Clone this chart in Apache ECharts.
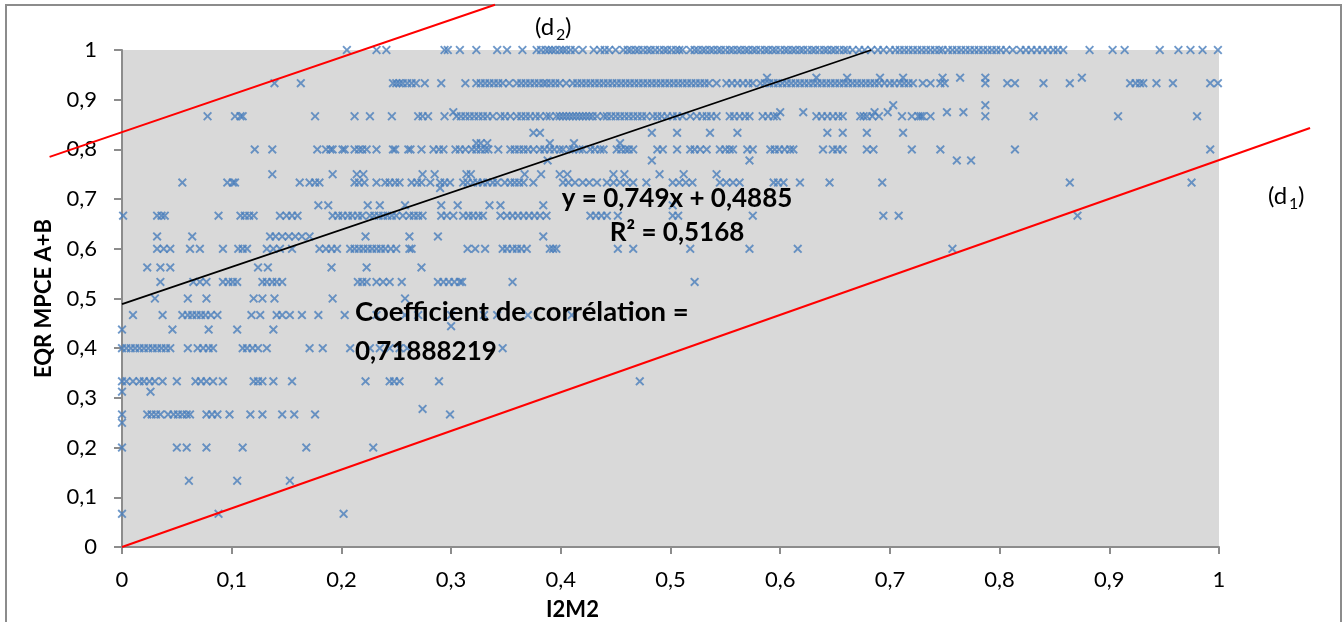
<!DOCTYPE html>
<html>
<head>
<meta charset="utf-8">
<script src="https://cdn.jsdelivr.net/npm/echarts@6/dist/echarts.min.js"></script>
<style>
  html, body { margin: 0; padding: 0; background: #fff; }
  #chart { width: 1343px; height: 622px; }
</style>
</head>
<body>
<div id="chart"></div>
<script>
// x values (I2M2) for each EQR level
const xAt1000 = [0.205,0.232,0.241,0.294,0.297,0.308,0.323,0.342,0.351,0.365,0.378,0.382,0.386,0.389,0.392,0.395,0.399,0.402,0.405,0.409,0.413,0.42,0.43,0.436,0.44,0.444,0.45,0.457,0.461,0.464,0.468,0.471,0.475,0.479,0.482,0.486,0.49,0.494,0.497,0.501,0.505,0.508,0.511,0.518,0.522,0.525,0.529,0.532,0.536,0.539,0.543,0.546,0.55,0.554,0.557,0.561,0.564,0.568,0.571,0.575,0.578,0.582,0.586,0.589,0.593,0.596,0.6,0.604,0.607,0.611,0.614,0.618,0.621,0.625,0.629,0.632,0.636,0.64,0.643,0.647,0.65,0.654,0.658,0.661,0.666,0.672,0.677,0.683,0.689,0.694,0.7,0.705,0.709,0.713,0.717,0.721,0.725,0.729,0.733,0.737,0.741,0.745,0.748,0.753,0.757,0.761,0.765,0.769,0.773,0.777,0.781,0.785,0.789,0.793,0.797,0.801,0.806,0.812,0.819,0.824,0.829,0.834,0.839,0.844,0.849,0.853,0.858,0.882,0.903,0.914,0.946,0.963,0.974,0.985,0.999];
const xAt944 = [0.588,0.633,0.661,0.691,0.712,0.748,0.764,0.787,0.875];
const xAt933 = [0.139,0.163,0.247,0.25,0.253,0.256,0.26,0.264,0.268,0.276,0.291,0.313,0.323,0.327,0.331,0.335,0.339,0.343,0.347,0.353,0.36,0.364,0.368,0.372,0.376,0.38,0.384,0.387,0.391,0.395,0.399,0.405,0.411,0.415,0.419,0.423,0.427,0.431,0.435,0.439,0.443,0.447,0.451,0.455,0.459,0.463,0.467,0.471,0.475,0.479,0.483,0.487,0.491,0.495,0.499,0.503,0.507,0.511,0.515,0.519,0.523,0.527,0.531,0.535,0.542,0.551,0.556,0.561,0.566,0.571,0.575,0.582,0.586,0.59,0.594,0.598,0.602,0.606,0.61,0.614,0.618,0.622,0.626,0.63,0.634,0.638,0.642,0.646,0.65,0.654,0.658,0.662,0.666,0.67,0.674,0.678,0.682,0.686,0.69,0.695,0.7,0.704,0.709,0.713,0.717,0.721,0.73,0.737,0.746,0.75,0.787,0.807,0.814,0.84,0.864,0.919,0.924,0.928,0.931,0.943,0.958,0.992,0.999];
const xAt889 = [0.703,0.787];
const xAt875 = [0.302,0.6,0.621,0.686,0.698,0.752,0.767];
const xAt867 = [0.078,0.103,0.108,0.11,0.176,0.212,0.226,0.246,0.27,0.274,0.279,0.294,0.305,0.309,0.313,0.317,0.321,0.325,0.329,0.333,0.338,0.345,0.349,0.354,0.36,0.364,0.368,0.372,0.377,0.381,0.387,0.39,0.396,0.399,0.402,0.405,0.408,0.411,0.414,0.417,0.42,0.423,0.426,0.429,0.433,0.439,0.442,0.446,0.45,0.454,0.458,0.462,0.466,0.47,0.474,0.478,0.484,0.488,0.492,0.497,0.502,0.506,0.511,0.518,0.524,0.529,0.533,0.537,0.542,0.554,0.558,0.563,0.568,0.572,0.584,0.589,0.594,0.597,0.633,0.638,0.643,0.648,0.653,0.657,0.673,0.676,0.679,0.684,0.69,0.711,0.72,0.726,0.728,0.73,0.737,0.787,0.831,0.908,0.98];
const xAt833 = [0.375,0.381,0.483,0.506,0.536,0.561,0.643,0.657,0.679,0.712];
const xAt813 = [0.323,0.327,0.333,0.39,0.412,0.454];
const xAt800 = [0.121,0.137,0.178,0.186,0.19,0.192,0.201,0.203,0.212,0.216,0.219,0.223,0.232,0.247,0.249,0.261,0.263,0.273,0.284,0.289,0.293,0.304,0.308,0.313,0.319,0.323,0.327,0.331,0.334,0.343,0.354,0.358,0.362,0.366,0.37,0.375,0.381,0.385,0.39,0.394,0.399,0.402,0.408,0.411,0.417,0.42,0.427,0.431,0.436,0.439,0.451,0.455,0.459,0.462,0.466,0.488,0.493,0.506,0.518,0.522,0.527,0.533,0.545,0.55,0.554,0.557,0.57,0.575,0.591,0.595,0.599,0.604,0.609,0.612,0.639,0.648,0.652,0.657,0.679,0.685,0.72,0.746,0.814,0.992];
const xAt778 = [0.388,0.483,0.572,0.761,0.774];
const xAt750 = [0.137,0.192,0.214,0.22,0.274,0.285,0.314,0.318,0.367,0.382,0.399,0.406,0.448,0.458,0.49,0.512,0.542];
const xAt733 = [0.055,0.096,0.101,0.103,0.162,0.171,0.176,0.18,0.212,0.216,0.221,0.232,0.24,0.244,0.249,0.253,0.264,0.269,0.273,0.281,0.29,0.294,0.299,0.311,0.315,0.32,0.324,0.329,0.333,0.338,0.342,0.349,0.354,0.358,0.362,0.366,0.375,0.402,0.407,0.413,0.42,0.426,0.433,0.442,0.448,0.454,0.46,0.466,0.478,0.502,0.508,0.514,0.52,0.545,0.551,0.557,0.563,0.594,0.598,0.603,0.618,0.645,0.693,0.864,0.975];
const xAt722 = [0.29];
const xAt688 = [0.179,0.188,0.224,0.235,0.258,0.291,0.306,0.335,0.345,0.384,0.502];
const xAt667 = [0.001,0.032,0.036,0.039,0.088,0.108,0.112,0.116,0.12,0.144,0.15,0.155,0.16,0.192,0.197,0.201,0.206,0.21,0.215,0.219,0.226,0.23,0.234,0.238,0.242,0.246,0.25,0.256,0.262,0.266,0.27,0.274,0.291,0.296,0.302,0.311,0.316,0.32,0.325,0.329,0.345,0.351,0.356,0.361,0.366,0.371,0.376,0.381,0.387,0.427,0.432,0.437,0.442,0.452,0.502,0.507,0.575,0.694,0.708,0.871];
const xAt625 = [0.032,0.064,0.135,0.14,0.146,0.152,0.158,0.164,0.171,0.222,0.262,0.288,0.384];
const xAt600 = [0.032,0.038,0.044,0.062,0.071,0.092,0.106,0.11,0.114,0.132,0.138,0.144,0.155,0.18,0.186,0.191,0.196,0.208,0.212,0.216,0.22,0.224,0.228,0.232,0.236,0.24,0.245,0.25,0.262,0.264,0.315,0.322,0.331,0.347,0.351,0.356,0.36,0.364,0.369,0.39,0.393,0.396,0.452,0.466,0.518,0.572,0.616,0.757];
const xAt563 = [0.023,0.035,0.044,0.124,0.133,0.191,0.223,0.273];
const xAt533 = [0.035,0.065,0.071,0.077,0.092,0.097,0.101,0.105,0.128,0.132,0.137,0.141,0.146,0.215,0.219,0.223,0.232,0.238,0.244,0.255,0.288,0.293,0.298,0.303,0.308,0.31,0.356,0.522];
const xAt500 = [0.03,0.06,0.077,0.12,0.128,0.139,0.192,0.258];
const xAt467 = [0.01,0.037,0.055,0.06,0.064,0.068,0.072,0.076,0.081,0.087,0.118,0.126,0.141,0.146,0.153,0.164,0.179,0.203,0.232,0.258,0.27,0.3,0.33,0.342,0.37,0.41];
const xAt444 = [0.3];
const xAt438 = [0.0,0.046,0.079,0.105,0.138];
const xAt400 = [0.0,0.004,0.008,0.012,0.016,0.02,0.024,0.028,0.032,0.036,0.04,0.044,0.06,0.069,0.074,0.079,0.083,0.11,0.114,0.119,0.124,0.132,0.171,0.183,0.208,0.226,0.235,0.244,0.253,0.26,0.347];
const xAt333 = [0.0,0.004,0.01,0.016,0.02,0.025,0.03,0.037,0.05,0.067,0.072,0.077,0.083,0.092,0.12,0.124,0.128,0.138,0.155,0.222,0.244,0.248,0.253,0.289,0.472];
const xAt313 = [0.0,0.026];
const xAt278 = [0.274];
const xAt267 = [0.0,0.023,0.027,0.031,0.035,0.042,0.047,0.051,0.055,0.059,0.062,0.077,0.082,0.087,0.098,0.117,0.128,0.146,0.157,0.176,0.299];
const xAt250 = [0.0];
const xAt200 = [0.0,0.05,0.059,0.077,0.11,0.168,0.229];
const xAt133 = [0.061,0.105,0.153];
const xAt067 = [0.0,0.088,0.202];

const levels = [
  [1, xAt1000], [0.9444, xAt944], [0.9333, xAt933], [0.8889, xAt889], [0.875, xAt875],
  [0.8667, xAt867], [0.8333, xAt833], [0.8125, xAt813], [0.8, xAt800], [0.7778, xAt778],
  [0.75, xAt750], [0.7333, xAt733], [0.7222, xAt722], [0.6875, xAt688], [0.6667, xAt667],
  [0.625, xAt625], [0.6, xAt600], [0.5625, xAt563], [0.5333, xAt533], [0.5, xAt500],
  [0.4667, xAt467], [0.4444, xAt444], [0.4375, xAt438], [0.4, xAt400], [0.3333, xAt333],
  [0.3125, xAt313], [0.2778, xAt278], [0.2667, xAt267], [0.25, xAt250], [0.2, xAt200],
  [0.1333, xAt133], [0.0667, xAt067]
];

// fitted line and the two bounding lines (d1, d2)
const trendLine = [[0, 0.4885], [0.683, 1.0]];
const d1Line = [[0, 0], [1.083, 0.843]];
const d2Line = [[-0.066, 0.785], [0.34, 1.091]];

const points = [];
levels.forEach(([y, xs]) => xs.forEach(x => points.push([x, y])));

const fmt = v => String(Math.round(v * 10) / 10).replace('.', ',');
const font = 'Lato, "Open Sans", sans-serif';
const xMark = 'path://M0,1.5L1.5,0L5,3.5L8.5,0L10,1.5L6.5,5L10,8.5L8.5,10L5,6.5L1.5,10L0,8.5L3.5,5Z';

const txt = (x, y, text, size, bold, align) => ({
  type: 'text', x: x, y: y, z: 10,
  style: { text: text, fontFamily: font, fontWeight: bold ? 'bold' : 'normal', fontSize: size, fill: '#000', align: align || 'left', verticalAlign: 'middle' }
});

const chart = echarts.init(document.getElementById('chart'));
chart.setOption({
  animation: false,
  backgroundColor: '#fff',
  grid: {
    left: 122, top: 50, right: 124, bottom: 75,
    outerBoundsMode: 'none', containLabel: false,
    show: true, backgroundColor: '#d9d9d9', borderWidth: 0
  },
  xAxis: {
    type: 'value', min: 0, max: 1, interval: 0.1,
    name: 'I2M2', nameLocation: 'middle', nameGap: 52,
    nameTextStyle: { fontFamily: font, fontWeight: 'bold', fontSize: 22, color: '#000', padding: [0, 196, 0, 0] },
    axisLine: { show: true, lineStyle: { color: '#8c8c8c', width: 2 } },
    axisTick: { show: true, length: 7, lineStyle: { color: '#8c8c8c', width: 2 } },
    axisLabel: { formatter: fmt, margin: 22, fontFamily: font, fontSize: 22, color: '#000' },
    splitLine: { show: false }
  },
  yAxis: {
    type: 'value', min: 0, max: 1, interval: 0.1,
    name: 'EQR MPCE A+B', nameLocation: 'middle', nameGap: 67,
    nameTextStyle: { fontFamily: font, fontWeight: 'bold', fontSize: 22, color: '#000' },
    axisLine: { show: true, lineStyle: { color: '#8c8c8c', width: 2 } },
    axisTick: { show: true, length: 8, lineStyle: { color: '#8c8c8c', width: 2 } },
    axisLabel: { formatter: fmt, margin: 25, fontFamily: font, fontSize: 22, color: '#000' },
    splitLine: { show: false }
  },
  series: [
    {
      type: 'scatter', data: points, symbol: xMark, symbolSize: 9,
      itemStyle: { color: '#4a7ebb' }, clip: false, z: 2
    },
    {
      type: 'line', data: trendLine, showSymbol: false, clip: false,
      lineStyle: { color: '#000', width: 1.8 }, z: 3
    }
  ]
});

// red lines run past the plot area, so draw them as polylines placed by the axes
const toPx = pts => pts.map(p => chart.convertToPixel({ gridIndex: 0 }, p));
chart.setOption({
  graphic: [
    { type: 'rect', shape: { x: 6, y: 5, width: 1335, height: 640 }, style: { fill: 'none', stroke: '#8c8c8c', lineWidth: 2 }, z: -1 },
    { type: 'polyline', shape: { points: toPx(d1Line) }, style: { stroke: '#ff0000', lineWidth: 2, fill: 'none' }, z: 5 },
    { type: 'polyline', shape: { points: toPx(d2Line) }, style: { stroke: '#ff0000', lineWidth: 2, fill: 'none' }, z: 5 },
    txt(677, 199, 'y = 0,749x + 0,4885', 26, true, 'center'),
    txt(677, 233, 'R² = 0,5168', 26, true, 'center'),
    txt(355, 312, 'Coefficient de corrélation =', 27.5, true),
    txt(355, 352, '0,71888219', 26, true),
    txt(535, 27, '(d', 24, false),
    txt(556, 35, '2', 16, false),
    txt(565, 27, ')', 24, false),
    txt(1268, 196, '(d', 24, false),
    txt(1289, 204, '1', 16, false),
    txt(1298, 196, ')', 24, false)
  ]
});
</script>
</body>
</html>
